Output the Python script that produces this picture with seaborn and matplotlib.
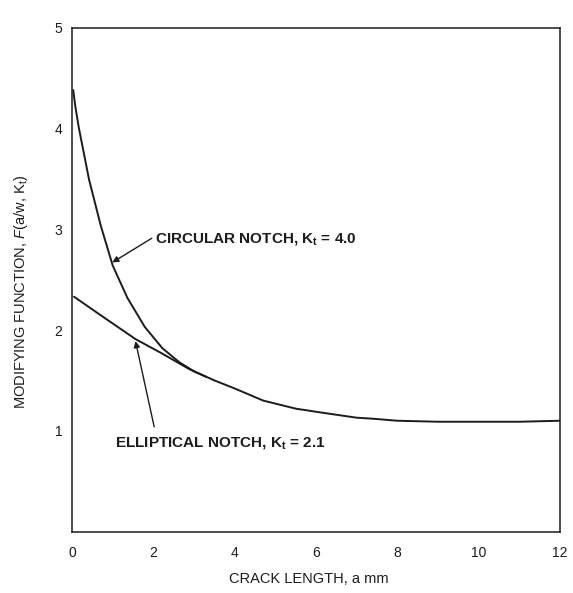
import matplotlib
matplotlib.use("Agg")
import matplotlib.pyplot as plt
import pandas as pd
import seaborn as sns

# ---- data ----
circ_x = [0.03, 0.08, 0.17, 0.42, 0.71, 1.0, 1.36, 1.79, 2.22, 2.64, 3.0, 3.3]
circ_y = [4.38, 4.22, 4.0, 3.49, 3.03, 2.64, 2.32, 2.03, 1.82, 1.68, 1.59, 1.535]
ell_x = [0.05, 0.8, 1.56, 2.2, 2.89, 3.5, 4.0, 4.7, 5.5, 6.15, 7.0, 7.4, 8.0, 9.0, 10.0, 11.0, 12.0]
ell_y = [2.33, 2.12, 1.91, 1.77, 1.61, 1.50, 1.42, 1.30, 1.22, 1.18, 1.13, 1.12, 1.10, 1.09, 1.09, 1.09, 1.10]
x_ticks = [0, 2, 4, 6, 8, 10, 12]
y_ticks = [1, 2, 3, 4, 5]
circ_label = r"CIRCULAR NOTCH, K$_\mathregular{t}$ = 4.0"
ell_label = r"ELLIPTICAL NOTCH, K$_\mathregular{t}$ = 2.1"

sns.set_theme(style="white")
plt.rcParams["font.family"] = ["Liberation Sans", "DejaVu Sans"]
plt.rcParams["mathtext.fontset"] = "custom"
plt.rcParams["mathtext.rm"] = "Liberation Sans"
plt.rcParams["mathtext.it"] = "Liberation Sans:italic"

ink = "#1c1c1c"
fig = plt.figure(figsize=(5.73, 5.93), dpi=100)
ax = fig.add_axes([0.1257, 0.1035, 0.8517, 0.85])

circ = pd.DataFrame({"a": circ_x, "F": circ_y})
ell = pd.DataFrame({"a": ell_x, "F": ell_y})
sns.lineplot(data=ell, x="a", y="F", ax=ax, color=ink, lw=1.4, sort=False)
sns.lineplot(data=circ, x="a", y="F", ax=ax, color=ink, lw=1.4, sort=False)

ax.set_xlim(0, 12)
ax.set_ylim(0, 5)
ax.set_xticks(x_ticks)
ax.set_xticklabels([str(v) for v in x_ticks])
ax.set_yticks(y_ticks)
ax.set_yticklabels([str(v) for v in y_ticks])
ax.tick_params(axis="both", direction="in", length=6, width=1.1, colors=ink,
               labelsize=10, labelcolor=ink)
ax.tick_params(axis="y", pad=7)
ax.tick_params(axis="x", pad=10)
for s in ax.spines.values():
    s.set_visible(True)
    s.set_color(ink)
    s.set_linewidth(1.1)

ax.set_xlabel("CRACK LENGTH, a mm", fontsize=10.5, color=ink)
ax.set_ylabel(r"MODIFYING FUNCTION, $F$(a/w, K$_\mathregular{t}$)", fontsize=10.5, color=ink)
ax.xaxis.set_label_coords(0.486, -0.080)
ax.yaxis.set_label_coords(-0.086, 0.475)

arrow = dict(arrowstyle="-|>", lw=1.0, color=ink, mutation_scale=9, shrinkA=0, shrinkB=0)
ax.annotate("", xy=(0.99, 2.67), xytext=(1.96, 2.91), arrowprops=arrow)
ax.text(2.04, 2.90, circ_label, ha="left", va="center", fontsize=11,
        fontweight="bold", color=ink)
ax.annotate("", xy=(1.56, 1.89), xytext=(2.02, 1.04), arrowprops=arrow)
ax.text(1.06, 0.88, ell_label, ha="left", va="center", fontsize=11,
        fontweight="bold", color=ink)

fig.savefig("out.png", dpi=100)
